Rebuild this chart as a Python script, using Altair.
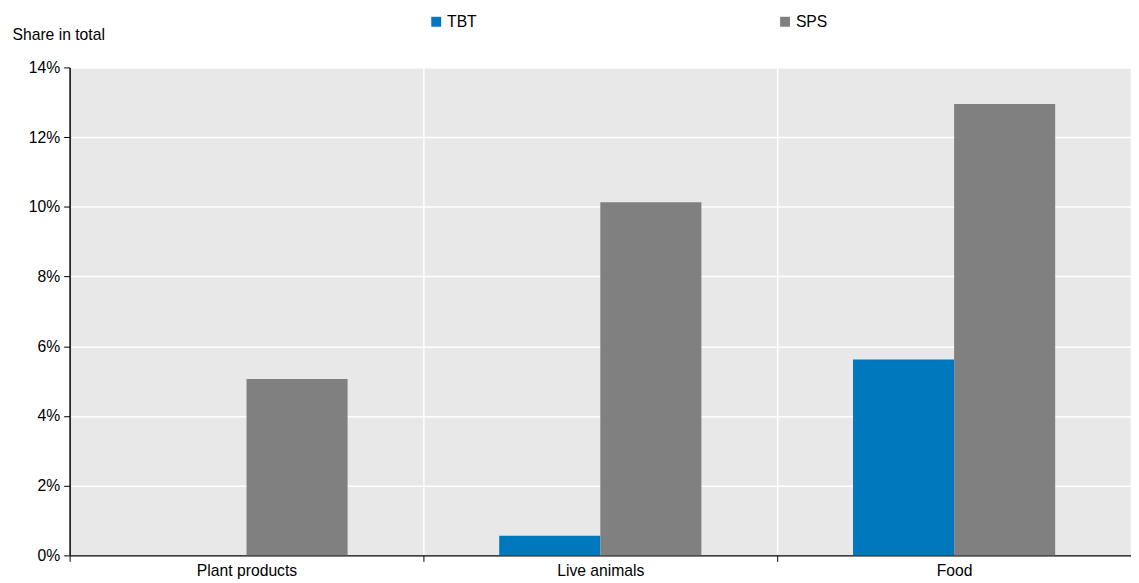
import altair as alt
import pandas as pd

categories = ["Plant products", "Live animals", "Food"]
series = ["TBT", "SPS"]
tbt = [0.0, 0.56, 5.62]
sps = [5.06, 10.13, 12.95]
colors = ["#0078BE", "#808080"]

rows = []
for i, c in enumerate(categories):
    rows.append({"cat": c, "series": "TBT", "value": tbt[i]})
    rows.append({"cat": c, "series": "SPS", "value": sps[i]})
df = pd.DataFrame(rows)

font = "Liberation Sans"
fs = 15.8

chart = alt.Chart(df).mark_bar().encode(
    x=alt.X("cat:N", sort=categories, title=None,
            scale=alt.Scale(paddingInner=0, paddingOuter=0),
            axis=alt.Axis(tickBand="extent", grid=True, gridColor="white", gridWidth=1.5,
                          domainColor="black", tickColor="black", tickSize=6,
                          labelAngle=0, labelFont=font, labelFontSize=fs, labelColor="black",
                          labelPadding=2)),
    xOffset=alt.XOffset("series:N", sort=series,
                        scale=alt.Scale(paddingInner=0, paddingOuter=0.75)),
    y=alt.Y("value:Q", scale=alt.Scale(domain=[0, 14]),
            axis=alt.Axis(values=[0, 2, 4, 6, 8, 10, 12, 14], labelExpr="datum.value + '%'",
                          grid=True, gridColor="white", gridWidth=1.5,
                          domainColor="black", tickColor="black", tickSize=6,
                          labelFont=font, labelFontSize=fs, labelColor="black", labelPadding=4,
                          title="Share in total", titleAngle=0, titleAlign="left",
                          titleX=-58, titleY=-25, titleFont=font, titleFontSize=fs,
                          titleFontWeight="normal", titleColor="black")),
    color=alt.Color("series:N", sort=series,
                    scale=alt.Scale(domain=series, range=colors),
                    legend=alt.Legend(title=None, orient="none", legendX=361, legendY=-54,
                                      direction="horizontal", columns=2, columnPadding=302,
                                      symbolType="square", symbolSize=100, symbolStrokeWidth=0,
                                      labelFont=font, labelFontSize=fs, labelColor="black",
                                      labelOffset=3)),
).properties(
    width=1068, height=491,
    autosize=alt.AutoSizeParams(type="none"),
    padding={"left": 62, "top": 58, "right": 0, "bottom": 24},
).configure_view(
    fill="#E8E8E8", stroke=None
).configure_axis(
    domainWidth=1.5
)

chart.save("out.html", embed_options={"renderer": "svg", "actions": False})
